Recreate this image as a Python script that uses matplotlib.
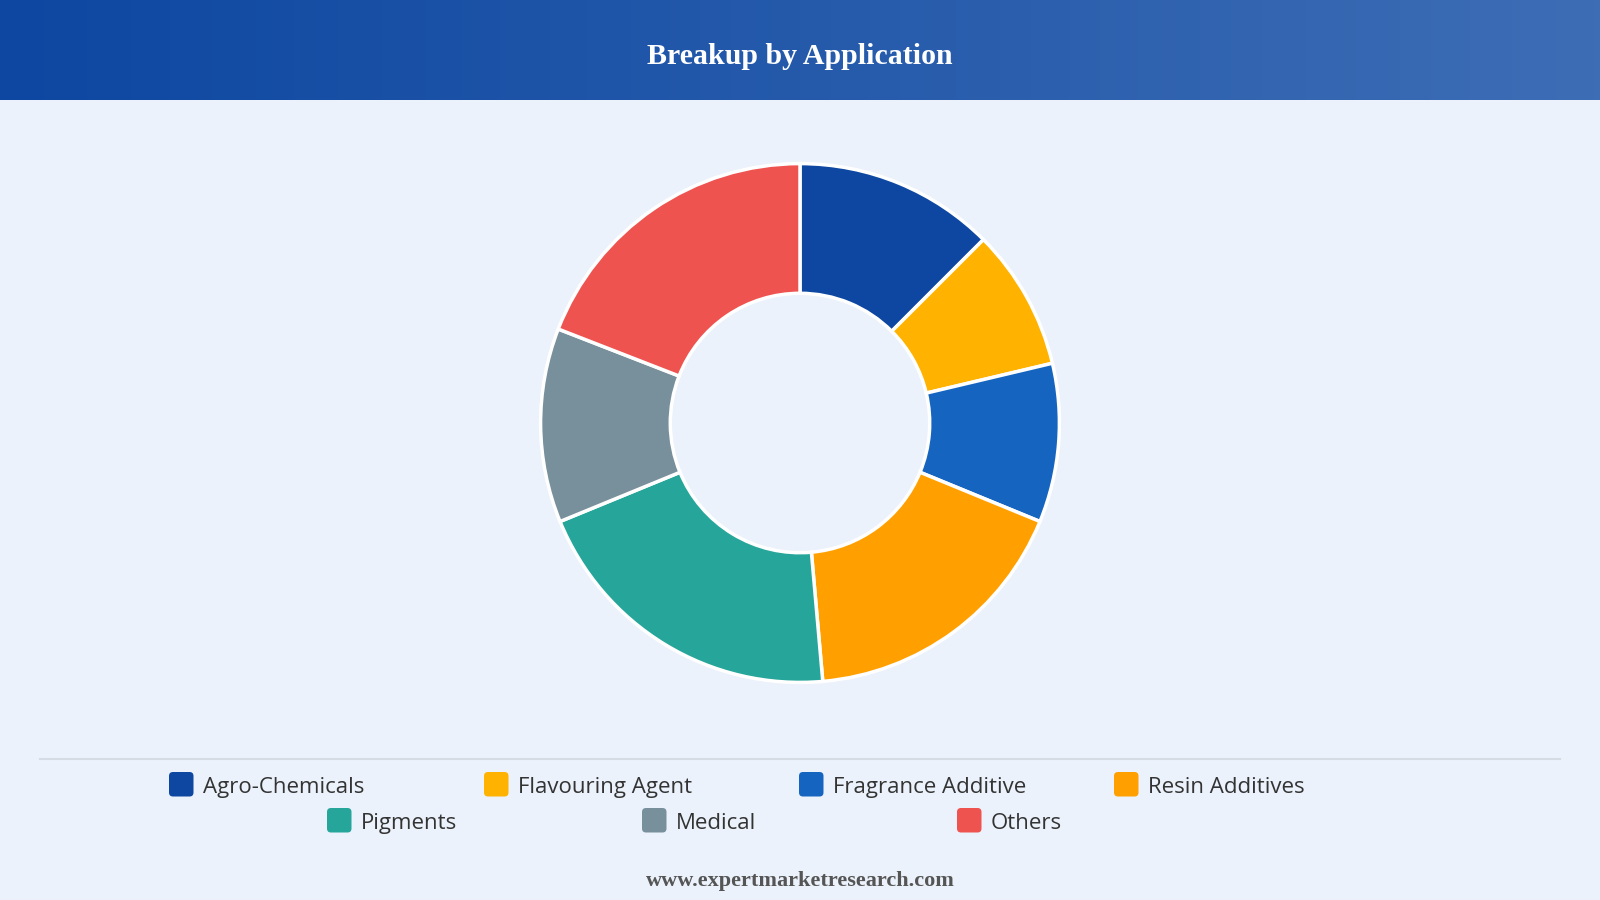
import numpy as np
import matplotlib.pyplot as plt
from matplotlib.patches import FancyBboxPatch
from matplotlib.colors import LinearSegmentedColormap

# application shares (%)
labels = ['Agro-Chemicals', 'Flavouring Agent', 'Fragrance Additive', 'Resin Additives',
          'Pigments', 'Medical', 'Others']
shares = [12.5, 8.8, 9.9, 17.4, 20.2, 12.1, 19.1]
colors = ['#0D47A1', '#FFB300', '#1565C0', '#FFA000', '#26A69A', '#78909C', '#EF5350']

W, H = 1600, 900
bg = '#EBF2FB'

fig = plt.figure(figsize=(16, 9), dpi=100)
fig.patch.set_facecolor(bg)

# header band with a left-to-right gradient
hdr = fig.add_axes([0, 1 - 100 / H, 1, 100 / H])
grad = LinearSegmentedColormap.from_list('hdr', ['#0D47A1', '#3D6DB5'])
hdr.imshow(np.linspace(0, 1, 256).reshape(1, -1), aspect='auto', cmap=grad,
           extent=[0, 1, 0, 1])
hdr.set_axis_off()
fig.text(0.5, 1 - 56 / H, 'Breakup by Application', ha='center', va='center',
         color='white', fontsize=21.5, fontweight='bold', family='Liberation Serif')

# donut
cx, cy, r = 800, 423, 262
ax = fig.add_axes([(cx - r) / W, (H - cy - r) / H, 2 * r / W, 2 * r / H])
ax.pie(shares, colors=colors, startangle=90, counterclock=False, radius=1,
       wedgeprops=dict(width=0.5, edgecolor='white', linewidth=2.5))
ax.set_xlim(-1.01, 1.01)
ax.set_ylim(-1.01, 1.01)
ax.set_aspect('equal')
ax.set_axis_off()

# overlay axes in pixel coords for legend and footer
ov = fig.add_axes([0, 0, 1, 1], facecolor='none')
ov.set_xlim(0, W)
ov.set_ylim(H, 0)
ov.set_axis_off()

ov.plot([40, 1560], [759, 759], color='#D6DCE4', linewidth=1.5)

# legend: 4 items in first row, 3 in second
row_x = [[169, 484, 799, 1114], [327, 642, 957]]
row_y = [784, 820]
k = 0
for row, y in zip(row_x, row_y):
    for x in row:
        ov.add_patch(FancyBboxPatch((x, y - 12), 24.5, 24.5,
                                    boxstyle='round,pad=0,rounding_size=4',
                                    facecolor=colors[k], edgecolor='none'))
        ov.text(x + 34, y + 9, labels[k], ha='left', va='baseline', fontsize=16,
                color='#333333', family='Open Sans')
        k += 1

ov.text(W / 2, 881, 'www.expertmarketresearch.com', ha='center', va='center',
        fontsize=16, fontweight='bold', color='#555555', family='Liberation Serif')

plt.savefig('out.png', dpi=100, facecolor=fig.get_facecolor())
